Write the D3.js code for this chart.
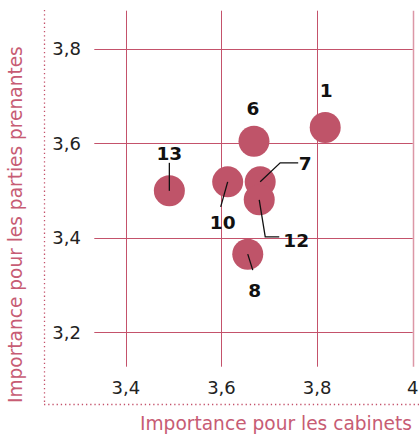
<!DOCTYPE html>
<html>
<head>
<meta charset="utf-8">
<script src="https://cdn.jsdelivr.net/npm/d3@7"></script>
<style>
body { margin: 0; background: #fff; }
svg { display: block; }
</style>
</head>
<body>
<svg width="419" height="434"></svg>
<script>
var ids = ["1", "6", "7", "12", "10", "13", "8"];
var cabinets = [3.817, 3.668, 3.681, 3.679, 3.613, 3.491, 3.655];
var parties = [3.633, 3.604, 3.518, 3.480, 3.518, 3.499, 3.365];
var xTicks = [3.4, 3.6, 3.8, 4];
var yTicks = [3.2, 3.4, 3.6, 3.8];

// label placement relative to each point: label offset + leader path
var labelOffsets = [
  {dx: 1, dy: -37, path: null},
  {dx: -1, dy: -33, path: null},
  {dx: 45, dy: -19, path: [[0, 0], [20, -19], [38, -19]]},
  {dx: 37, dy: 40, path: [[0, 0], [6, 37], [20, 37]]},
  {dx: -5, dy: 40, path: [[0, 0], [-7, 25]]},
  {dx: 0, dy: -38, path: [[0, 0], [0, -28]]},
  {dx: 7, dy: 36, path: [[0, 0], [5, 16]]}
];

var points = ids.map(function (id, i) {
  return {id: id, x: cabinets[i], y: parties[i], lab: labelOffsets[i]};
});

var svg = d3.select("svg"),
  width = +svg.attr("width"),
  height = +svg.attr("height");

var pink = "#c4526b";
var font = "'DejaVu Sans', sans-serif";

var x = d3.scaleLinear().domain([3.334, 4.0]).range([94.3, 412.7]);
var y = d3.scaleLinear().domain([3.127, 3.88]).range([366.7, 10.7]);

// grid
var grid = svg.append("g");
grid.selectAll(".vg").data(xTicks).enter().append("line")
  .attr("x1", function (d) { return Math.round(x(d)) + 0.5; })
  .attr("x2", function (d) { return Math.round(x(d)) + 0.5; })
  .attr("y1", y.range()[1]).attr("y2", y.range()[0])
  .attr("stroke", function (d) { return d === 4 ? "#dc97a6" : pink; })
  .attr("stroke-width", function (d) { return d === 4 ? 1.5 : 1; });
grid.selectAll(".hg").data(yTicks).enter().append("line")
  .attr("y1", function (d) { return Math.round(y(d)) + 0.5; })
  .attr("y2", function (d) { return Math.round(y(d)) + 0.5; })
  .attr("x1", x.range()[0]).attr("x2", x.range()[1])
  .attr("stroke", pink).attr("stroke-width", 1);

var fmt = function (d) { return d === 4 ? "4" : d3.format(".1f")(d).replace(".", ","); };

// tick labels
svg.append("g").selectAll("text").data(yTicks).enter().append("text")
  .attr("x", 81).attr("y", function (d) { return y(d) + 6.5; })
  .attr("text-anchor", "end")
  .style("font-family", font).style("font-size", "18px")
  .attr("fill", "#222")
  .text(fmt);
svg.append("g").selectAll("text").data(xTicks).enter().append("text")
  .attr("x", function (d) { return x(d); }).attr("y", 394)
  .attr("text-anchor", "middle")
  .style("font-family", font).style("font-size", "18px")
  .attr("fill", "#222")
  .text(fmt);

// dotted axes
svg.append("line").attr("x1", 44.5).attr("x2", 44.5).attr("y1", 10).attr("y2", 404)
  .attr("stroke", pink).attr("stroke-dasharray", "1.3,2.9").attr("stroke-width", 1.3);
svg.append("line").attr("x1", 44).attr("x2", width).attr("y1", 404.5).attr("y2", 404.5)
  .attr("stroke", pink).attr("stroke-dasharray", "1.3,2.9").attr("stroke-width", 1.3);

// axis titles, sized to the span they take in the layout
function fitText(sel, span) {
  var w = sel.node().getComputedTextLength();
  sel.style("font-size", (16 * span / w).toFixed(2) + "px");
}
var xt = svg.append("text").attr("x", 412).attr("y", 430)
  .attr("text-anchor", "end")
  .style("font-family", font).style("font-size", "16px")
  .attr("fill", "#c75c74")
  .text("Importance pour les cabinets");
fitText(xt, 272);
var yt = svg.append("text").attr("transform", "translate(21.5,403) rotate(-90)")
  .attr("text-anchor", "start")
  .style("font-family", font).style("font-size", "16px")
  .attr("fill", "#c75c74")
  .text("Importance pour les parties prenantes");
fitText(yt, 357);

// points
svg.append("g").selectAll("circle").data(points).enter().append("circle")
  .attr("cx", function (d) { return x(d.x); })
  .attr("cy", function (d) { return y(d.y); })
  .attr("r", 15.5)
  .attr("fill", "#bf5469");

// leaders
var line = d3.line();
svg.append("g").selectAll("path").data(points.filter(function (d) { return d.lab.path; }))
  .enter().append("path")
  .attr("d", function (d) {
    var cx = x(d.x), cy = y(d.y);
    return line(d.lab.path.map(function (p) { return [cx + p[0], cy + p[1]]; }));
  })
  .attr("fill", "none").attr("stroke", "#111").attr("stroke-width", 1.3);

// labels
svg.append("g").selectAll("text").data(points).enter().append("text")
  .attr("x", function (d) { return x(d.x) + d.lab.dx; })
  .attr("y", function (d) { return y(d.y) + d.lab.dy + 7; })
  .attr("text-anchor", "middle")
  .style("font-family", font).style("font-size", "18.5px")
  .style("font-weight", "bold")
  .attr("fill", "#111")
  .text(function (d) { return d.id; });
</script>
</body>
</html>
